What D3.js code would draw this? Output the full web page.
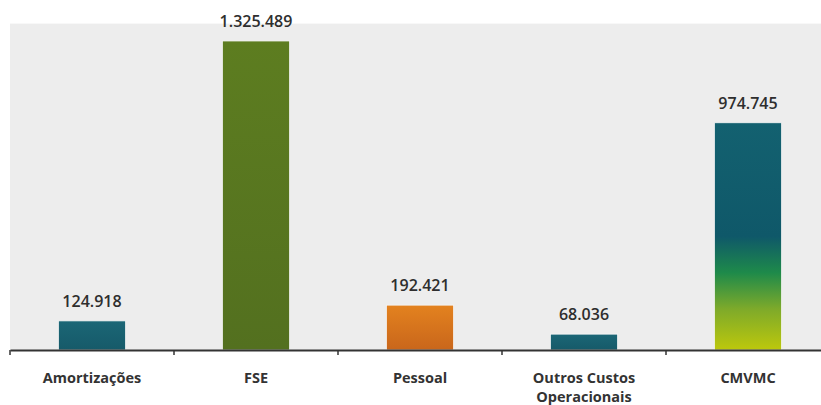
<!DOCTYPE html>
<html>
<head>
<meta charset="utf-8">
<script src="https://d3js.org/d3.v7.min.js"></script>
<style>
  html, body { margin: 0; padding: 0; background: #fff; overflow: hidden; }
  svg { display: block; }
  .val { font-family: "Open Sans", sans-serif; font-size: 16px; font-weight: 600; fill: #2e2e2e; }
  .cat { font-family: "Open Sans", sans-serif; font-size: 14.5px; font-weight: 700; fill: #333; }
</style>
</head>
<body>
<script>
// categories and values
const categories = ["Amortizações", "FSE", "Pessoal", "Outros Custos Operacionais", "CMVMC"];
const catLines = [["Amortizações"], ["FSE"], ["Pessoal"], ["Outros Custos", "Operacionais"], ["CMVMC"]];
const values = [124918, 1325489, 192421, 68036, 974745];
const valueLabels = ["124.918", "1.325.489", "192.421", "68.036", "974.745"];
const fills = ["url(#gTeal)", "url(#gOlive)", "url(#gOrange)", "url(#gTeal)", "url(#gCmv)"];

const WIDTH = 821, HEIGHT = 405;
const LEFT = 10, BAND_W = 164, BASE = 350, TOP = 23.6;

const svg = d3.select("body").append("svg")
  .attr("width", WIDTH).attr("height", HEIGHT);

const defs = svg.append("defs");
function grad(id, stops) {
  const g = defs.append("linearGradient").attr("id", id)
    .attr("x1", 0).attr("y1", 0).attr("x2", 0).attr("y2", 1);
  stops.forEach(s => g.append("stop").attr("offset", s[0]).attr("stop-color", s[1]));
}
grad("gTeal", [[0, "#1b6676"], [1, "#165a69"]]);
grad("gOlive", [[0, "#5d7d20"], [1, "#53701f"]]);
grad("gOrange", [[0, "#e3821f"], [1, "#c9661b"]]);
grad("gCmv", [[0, "#136170"], [0.5, "#0f5869"], [0.66, "#1e8a4a"], [0.82, "#7eaa2a"], [1, "#bdc80c"]]);

const x = d3.scaleBand()
  .domain(categories)
  .range([LEFT, LEFT + BAND_W * categories.length])
  .paddingInner(0.59).paddingOuter(0.295);

const y = d3.scaleLinear().domain([0, 1400000]).range([BASE, TOP]);

// plot background
svg.append("rect")
  .attr("x", LEFT).attr("y", y(1400000))
  .attr("width", WIDTH - LEFT).attr("height", BASE - y(1400000))
  .attr("fill", "#ededed");

svg.selectAll("rect.bar")
  .data(values)
  .join("rect")
  .attr("class", "bar")
  .attr("x", (d, i) => x(categories[i]))
  .attr("y", d => y(d))
  .attr("width", x.bandwidth())
  .attr("height", d => BASE - y(d))
  .attr("fill", (d, i) => fills[i])
  .attr("stroke", "#f6f6f6")
  .attr("stroke-width", 0.8);

svg.selectAll("text.val")
  .data(values)
  .join("text")
  .attr("class", "val")
  .attr("x", (d, i) => x(categories[i]) + x.bandwidth() / 2)
  .attr("y", d => y(d) - 14)
  .attr("text-anchor", "middle")
  .text((d, i) => valueLabels[i]);

// x axis
const axis = d3.axisBottom(x).tickSize(0).tickFormat("");
const gx = svg.append("g").attr("transform", `translate(0,${BASE})`).call(axis);
gx.select(".domain").attr("stroke", "#333").attr("stroke-width", 2);

const bounds = d3.range(categories.length).map(i => LEFT + i * BAND_W);
svg.selectAll("line.tk")
  .data(bounds)
  .join("line")
  .attr("class", "tk")
  .attr("x1", d => d).attr("x2", d => d)
  .attr("y1", BASE).attr("y2", BASE + 5)
  .attr("stroke", "#333").attr("stroke-width", 1.5);

const cat = svg.selectAll("text.cat")
  .data(categories)
  .join("text")
  .attr("class", "cat")
  .attr("x", d => x(d) + x.bandwidth() / 2)
  .attr("y", 383)
  .attr("text-anchor", "middle");
cat.selectAll("tspan")
  .data((d, i) => catLines[i])
  .join("tspan")
  .attr("x", function() { return this.parentNode.getAttribute("x"); })
  .attr("dy", (d, j) => j === 0 ? 0 : 19)
  .text(d => d);
</script>
</body>
</html>
